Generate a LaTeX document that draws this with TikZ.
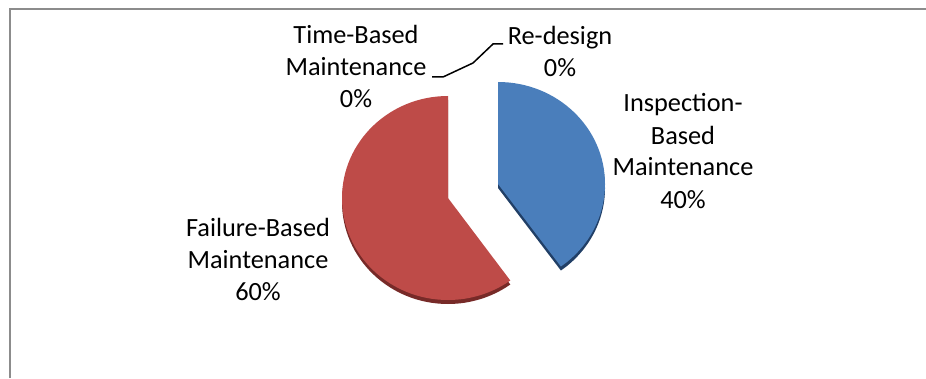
\documentclass[tikz,border=0pt]{standalone}
\usepackage{fontspec}
\setmainfont{Carlito}
\definecolor{inspblue}{HTML}{4A7EBB}
\definecolor{inspdark}{HTML}{213F66}
\definecolor{failred}{HTML}{BE4B48}
\definecolor{faildark}{HTML}{772A28}
\definecolor{framegray}{HTML}{8C8C8C}

\begin{document}
\begin{tikzpicture}[x=1pt,y=1pt,
	lbl/.style={align=center,inner sep=0pt,anchor=base,font=\fontsize{26.3}{32}\selectfont},
	leader/.style={black,line width=1.5pt}]
	\useasboundingbox (0,0) rectangle (926,378);
	\draw[framegray,line width=1.5pt](10,0)--(10,369)--(926,369);

	% failure-based slice
	\fill[faildark](448,176)--++(0,102) arc[start angle=90,end angle=306,x radius=106,y radius=102]--cycle;
	\fill[failred](448,180)--++(0,102) arc[start angle=90,end angle=306,x radius=106,y radius=102]--cycle;
	% inspection-based slice, pulled out
	\fill[inspdark](498,190)--++(0,102) arc[start angle=90,end angle=-54,x radius=107,y radius=102]--cycle;
	\fill[inspblue](498,194)--++(0,102) arc[start angle=90,end angle=-54,x radius=107,y radius=102]--cycle;

	\node[lbl](ibm) at (683,170){Inspection-\\Based\\Maintenance\\40\%};
	\node[lbl](fbm) at (258,78){Failure-Based\\Maintenance\\60\%};
	\node[lbl](tbm) at (356,270){Time-Based\\Maintenance\\0\%};
	\node[lbl](rd) at (560,301){Re-design\\0\%};

	\coordinate(tip) at (473,315);
	\coordinate(tbmend) at (432,301);
	\coordinate(rdend) at (503,334);
	\draw[leader](tbmend)--++(11,0)--(tip);
	\draw[leader](rdend)--++(-10,0)--(tip);
\end{tikzpicture}
\end{document}
